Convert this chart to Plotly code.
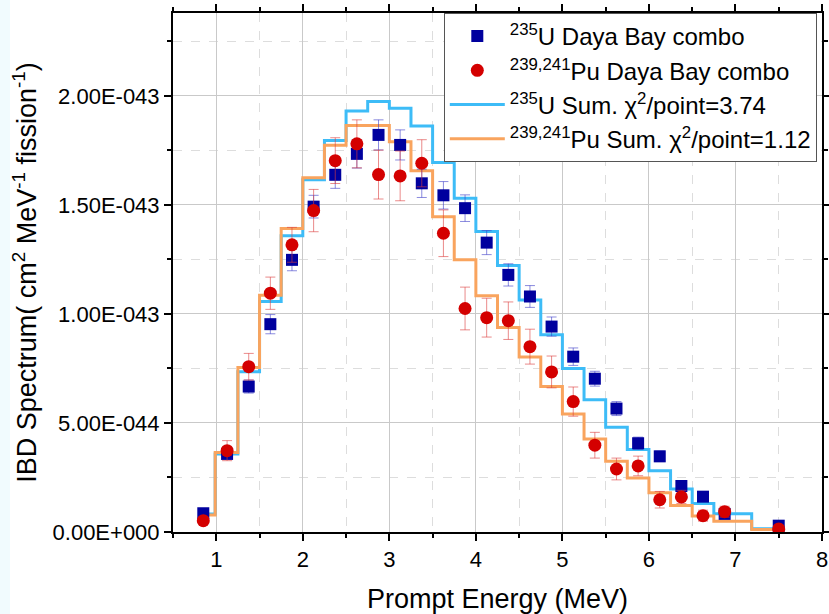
import plotly.graph_objects as go
import numpy as np

# Bin centres of prompt energy (MeV)
energy = [0.85, 1.125, 1.375, 1.625, 1.875, 2.125, 2.375, 2.625, 2.875, 3.125,
          3.375, 3.625, 3.875, 4.125, 4.375, 4.625, 4.875, 5.125, 5.375, 5.625,
          5.875, 6.125, 6.375, 6.625, 6.875, 7.5]

scale = 1e-43  # values below are in units of 1e-43 cm^2 MeV^-1 fission^-1

u_data = [0.086, 0.358, 0.667, 0.953, 1.248, 1.492, 1.638, 1.734, 1.821, 1.775,
          1.599, 1.544, 1.485, 1.327, 1.179, 1.080, 0.942, 0.804, 0.703, 0.566,
          0.407, 0.347, 0.211, 0.162, 0.083, 0.029]
u_err = [0.010, 0.020, 0.030, 0.044, 0.050, 0.052, 0.062, 0.065, 0.069, 0.069,
         0.065, 0.063, 0.061, 0.055, 0.051, 0.050, 0.044, 0.040, 0.034, 0.032,
         0.028, 0.024, 0.020, 0.018, 0.015, 0.010]

pu_data = [0.052, 0.373, 0.758, 1.095, 1.317, 1.474, 1.703, 1.780, 1.639, 1.633,
           1.691, 1.370, 1.025, 0.983, 0.969, 0.850, 0.734, 0.598, 0.398, 0.289,
           0.303, 0.148, 0.161, 0.075, 0.093, 0.014]
pu_err = [0.015, 0.046, 0.061, 0.074, 0.080, 0.097, 0.105, 0.110, 0.112, 0.114,
          0.108, 0.107, 0.098, 0.089, 0.086, 0.080, 0.073, 0.067, 0.059, 0.050,
          0.045, 0.038, 0.030, 0.025, 0.025, 0.015]

u_sum = [0.082, 0.358, 0.735, 1.057, 1.359, 1.615, 1.795, 1.931, 1.974, 1.943,
         1.862, 1.695, 1.530, 1.378, 1.222, 1.064, 0.905, 0.750, 0.606, 0.480,
         0.378, 0.281, 0.197, 0.131, 0.084, 0.015]
pu_sum = [0.078, 0.364, 0.754, 1.086, 1.392, 1.625, 1.774, 1.864, 1.864, 1.790,
          1.657, 1.446, 1.248, 1.083, 0.938, 0.802, 0.667, 0.541, 0.427, 0.324,
          0.248, 0.180, 0.121, 0.073, 0.049, 0.011]

x_ticks = [1, 2, 3, 4, 5, 6, 7, 8]
y_tickvals = [0, 0.5, 1.0, 1.5, 2.0]
y_ticktext = ["0.00E+000", "5.00E-044", "1.00E-043", "1.50E-043", "2.00E-043"]

names = ["<sup>235</sup>U Daya Bay combo",
         "<sup>239,241</sup>Pu Daya Bay combo",
         "<sup>235</sup>U Sum. χ<sup>2</sup>/point=3.74",
         "<sup>239,241</sup>Pu Sum. χ<sup>2</sup>/point=1.12"]

s = lambda a: (np.array(a) * scale).tolist()

BLUE_LINE = "#3dbcf7"
ORANGE_LINE = "#f9a45e"
NAVY = "#00009e"
RED = "#d40000"
FONT = "Liberation Sans, Arial, sans-serif"

fig = go.Figure()

fig.add_trace(go.Scatter(x=energy, y=s(u_sum), mode="lines", name=names[2],
                         line=dict(color=BLUE_LINE, width=3, shape="hvh"),
                         legendrank=3))
fig.add_trace(go.Scatter(x=energy, y=s(pu_sum), mode="lines", name=names[3],
                         line=dict(color=ORANGE_LINE, width=3, shape="hvh"),
                         legendrank=4))
fig.add_trace(go.Scatter(x=energy, y=s(u_data), mode="markers", name=names[0],
                         marker=dict(symbol="square", size=12, color=NAVY),
                         error_y=dict(type="data", array=s(u_err),
                                      color="rgba(60,60,200,0.6)", thickness=1, width=5),
                         legendrank=1))
fig.add_trace(go.Scatter(x=energy, y=s(pu_data), mode="markers", name=names[1],
                         marker=dict(symbol="circle", size=13, color=RED),
                         error_y=dict(type="data", array=s(pu_err),
                                      color="rgba(220,60,60,0.6)", thickness=1, width=5),
                         legendrank=2))

axis_common = dict(
    showline=True, linecolor="black", linewidth=2, mirror="ticks",
    ticks="outside", ticklen=7, tickwidth=1.5, tickcolor="black",
    showgrid=True, gridcolor="#c9c9c9", gridwidth=1,
    zeroline=False, automargin=False,
    tickfont=dict(family=FONT, size=22, color="black"),
)

fig.update_xaxes(
    **axis_common,
    range=[0.5, 8], tickvals=x_ticks,
    minor=dict(dtick=0.5, tick0=0.5, ticks="outside", ticklen=4, tickcolor="black",
               showgrid=True, gridcolor="#dddddd", griddash="dash", gridwidth=1),
    title=dict(text="Prompt Energy (MeV)", font=dict(family=FONT, size=27, color="black"),
               standoff=18),
)
fig.update_yaxes(
    **axis_common,
    range=[0, 2.38 * scale],
    tickvals=s(y_tickvals), ticktext=y_ticktext,
    minor=dict(dtick=0.25 * scale, tick0=0, ticks="outside", ticklen=4, tickcolor="black",
               showgrid=True, gridcolor="#dddddd", griddash="dash", gridwidth=1),
    title=dict(text="IBD Spectrum( cm<sup>2</sup> MeV<sup>-1</sup> fission<sup>-1</sup>)",
               font=dict(family=FONT, size=27, color="black"), standoff=8),
)

fig.update_layout(
    width=829, height=614,
    margin=dict(l=173, r=7, t=13, b=82, autoexpand=False),
    paper_bgcolor="white", plot_bgcolor="white",
    font=dict(family=FONT, color="black"),
    showlegend=True,
    legend=dict(x=0.992, xanchor="right", y=1.0, yanchor="top",
                bgcolor="white", bordercolor="#555555", borderwidth=1,
                font=dict(family=FONT, size=24, color="black"),
                itemwidth=55, tracegroupgap=0),
    shapes=[dict(type="rect", xref="paper", yref="paper",
                 x0=-173 / 649, x1=-163 / 649, y0=-82 / 519, y1=532 / 519,
                 fillcolor="#f1fbfe", line=dict(width=0), layer="below")],
)

fig.write_html(
    "out.html",
    config={"displayModeBar": False},
    post_script="document.body.style.margin='0px';document.body.style.overflow='hidden';",
)
